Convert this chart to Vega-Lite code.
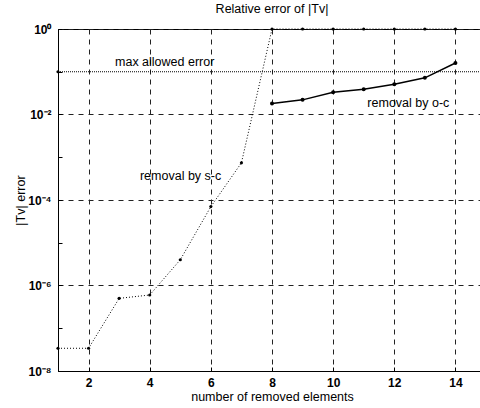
{
  "$schema": "https://vega.github.io/schema/vega-lite/v6.json",
  "autosize": "none",
  "width": 428,
  "height": 342,
  "padding": {"left": 58, "top": 29, "right": 0, "bottom": 37},
  "background": "white",
  "title": {"text": "Relative error of |Tv|", "fontSize": 12.5, "font": "Liberation Sans", "fontWeight": "normal", "color": "black", "offset": 8, "anchor": "middle"},
  "config": {
    "view": {"stroke": "black", "strokeWidth": 1},
    "axis": {"labelFont": "Liberation Sans", "titleFont": "Liberation Sans", "labelColor": "black", "titleColor": "black", "domainColor": "black", "tickColor": "black", "labelFontSize": 12, "titleFontSize": 12.5, "titleFontWeight": "normal"}
  },
  "datasets": {
    "err": [
      {"n": 1, "err": 3.4e-8, "series": "s-c"},
      {"n": 2, "err": 3.4e-8, "series": "s-c"},
      {"n": 3, "err": 5e-7, "series": "s-c"},
      {"n": 4, "err": 6e-7, "series": "s-c"},
      {"n": 5, "err": 4e-6, "series": "s-c"},
      {"n": 6, "err": 7e-5, "series": "s-c"},
      {"n": 7, "err": 7.4e-4, "series": "s-c"},
      {"n": 8, "err": 1, "series": "s-c"},
      {"n": 9, "err": 1, "series": "s-c"},
      {"n": 10, "err": 1, "series": "s-c"},
      {"n": 11, "err": 1, "series": "s-c"},
      {"n": 12, "err": 1, "series": "s-c"},
      {"n": 13, "err": 1, "series": "s-c"},
      {"n": 14, "err": 1, "series": "s-c"},
      {"n": 8, "err": 0.018, "series": "o-c"},
      {"n": 9, "err": 0.022, "series": "o-c"},
      {"n": 10, "err": 0.033, "series": "o-c"},
      {"n": 11, "err": 0.039, "series": "o-c"},
      {"n": 12, "err": 0.051, "series": "o-c"},
      {"n": 13, "err": 0.072, "series": "o-c"},
      {"n": 14, "err": 0.16, "series": "o-c"},
      {"n": 1, "err": 0.1, "series": "limit"},
      {"n": 15, "err": 0.1, "series": "limit"}
    ],
    "labels": [
      {"n": 4.49, "err": 0.17, "text": "max allowed error"},
      {"n": 12.46, "err": 0.0186, "text": "removal by o-c"},
      {"n": 5.01, "err": 0.00036, "text": "removal by s-c"}
    ]
  },
  "layer": [
    {
      "data": {"name": "err"},
      "transform": [{"filter": "datum.series == 'limit'"}],
      "mark": {"type": "line", "color": "black", "strokeWidth": 1, "strokeDash": [1, 1], "clip": true},
      "encoding": {
        "x": {"field": "n", "type": "quantitative", "scale": {"domain": [1, 15], "nice": false}, "axis": {"values": [2, 4, 6, 8, 10, 12, 14], "grid": true, "gridColor": "#222", "gridDash": [5, 5], "gridWidth": 1, "tickSize": -4, "labelFontWeight": "bold", "labelPadding": 10, "title": "number of removed elements", "titlePadding": 2, "domain": true}},
        "y": {"field": "err", "type": "quantitative", "scale": {"type": "log", "domain": [1e-8, 1], "nice": false}, "axis": {"values": [1e-8, 1e-7, 1e-6, 1e-5, 1e-4, 1e-3, 1e-2, 1e-1, 1], "grid": true, "gridColor": "#222", "gridDash": [5, 5], "gridWidth": 1, "gridOpacity": {"condition": {"test": "round(abs(log(datum.value)/log(10))) % 2 == 1", "value": 0}, "value": 1}, "tickSize": -4, "labelFontWeight": "bold", "labelPadding": 11, "labelExpr": "datum.value >= 0.5 ? '10⁰' : datum.value >= 0.05 ? '' : datum.value >= 0.005 ? '10⁻²' : datum.value >= 0.0005 ? '' : datum.value >= 0.00005 ? '10⁻⁴' : datum.value >= 0.000005 ? '' : datum.value >= 0.0000005 ? '10⁻⁶' : datum.value >= 0.00000005 ? '' : '10⁻⁸'", "title": "|Tv| error", "titlePadding": 0}}
      }
    },
    {
      "data": {"name": "err"},
      "transform": [{"filter": "datum.series == 'limit' && datum.n == 1"}],
      "mark": {"type": "point", "filled": true, "color": "black", "size": 10, "opacity": 1},
      "encoding": {
        "x": {"field": "n", "type": "quantitative"},
        "y": {"field": "err", "type": "quantitative"}
      }
    },
    {
      "data": {"name": "err"},
      "transform": [{"filter": "datum.series == 's-c'"}],
      "mark": {"type": "line", "color": "black", "strokeWidth": 1, "strokeDash": [1, 2], "point": {"filled": true, "color": "black", "size": 10, "opacity": 1}},
      "encoding": {
        "x": {"field": "n", "type": "quantitative"},
        "y": {"field": "err", "type": "quantitative"}
      }
    },
    {
      "data": {"name": "err"},
      "transform": [{"filter": "datum.series == 'o-c'"}],
      "mark": {"type": "line", "color": "black", "strokeWidth": 1.5, "point": {"filled": true, "color": "black", "size": 16, "opacity": 1}},
      "encoding": {
        "x": {"field": "n", "type": "quantitative"},
        "y": {"field": "err", "type": "quantitative"}
      }
    },
    {
      "data": {"name": "labels"},
      "mark": {"type": "text", "font": "Liberation Sans", "fontSize": 12.5, "color": "black", "align": "center", "baseline": "middle"},
      "encoding": {
        "x": {"field": "n", "type": "quantitative"},
        "y": {"field": "err", "type": "quantitative"},
        "text": {"field": "text"}
      }
    }
  ]
}
